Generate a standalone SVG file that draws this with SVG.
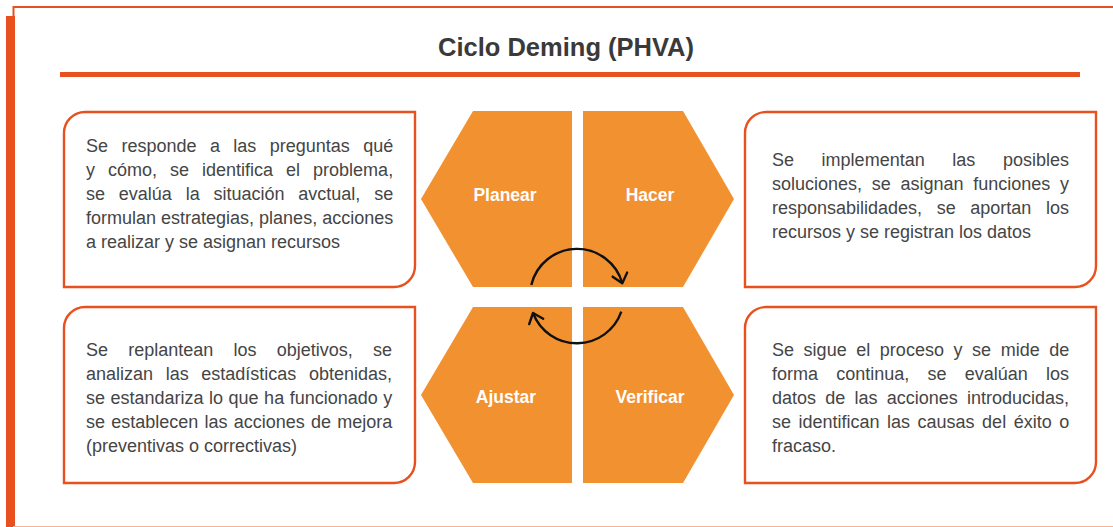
<svg xmlns="http://www.w3.org/2000/svg" width="1113" height="527" viewBox="0 0 1113 527">
<style>
.frame{fill:none;stroke:#E8501F;stroke-width:2}
.box{fill:#fff;stroke:#E8501F;stroke-width:2.4}
.hex{fill:#F29130}
.lbl{font-family:"Liberation Sans",Arial,sans-serif;font-weight:bold;font-size:17.5px;fill:#fff;text-anchor:middle}
.body{font-family:"Liberation Sans",Arial,sans-serif;font-size:18px;fill:#454545}
.title{font-family:"Liberation Sans",Arial,sans-serif;font-weight:bold;font-size:25.5px;fill:#3a3a3a;text-anchor:middle}
.arc{fill:none;stroke:#111;stroke-width:2.4;marker-end:url(#chev)}
</style>
<defs>
<marker id="chev" markerUnits="userSpaceOnUse" markerWidth="24" markerHeight="24" refX="0" refY="0" viewBox="-12 -12 24 24" orient="auto">
<path d="M-9,-7.5 L0,0 L-9,7.5" fill="none" stroke="#111" stroke-width="2.4" stroke-linecap="round" stroke-linejoin="round"/>
</marker>
</defs>
<rect width="1113" height="527" fill="#fff"/>
<g id="frame">
<path class="frame" d="M1113,7 H13.5 V20"/>
<rect x="6" y="16" width="9" height="511" fill="#E8501F"/>
<line x1="13" y1="526.5" x2="1113" y2="526.5" stroke="#F5B49A" stroke-width="1"/>
</g>
<g id="title">
<text class="title" x="566" y="56">Ciclo Deming (PHVA)</text>
<rect x="60" y="72" width="1020" height="5" fill="#E8501F"/>
</g>
<g id="node-planear">
<polygon class="hex" points="473,111 572,111 572,287 473,287 421,199"/>
<text class="lbl" x="505" y="201">Planear</text>
</g>
<g id="node-hacer">
<polygon class="hex" points="583,111 683,111 734,199 683,287 583,287"/>
<text class="lbl" x="650" y="201">Hacer</text>
</g>
<g id="node-ajustar">
<polygon class="hex" points="473,307 572,307 572,483 473,483 421,395"/>
<text class="lbl" x="506" y="403">Ajustar</text>
</g>
<g id="node-verificar">
<polygon class="hex" points="583,307 683,307 734,395 683,483 583,483"/>
<text class="lbl" x="650" y="403">Verificar</text>
</g>
<g id="box-planear">
<path class="box" d="M64,133 A21,21 0 0 1 85,112 H415 V266 A21,21 0 0 1 394,287 H64 Z"/>
<text class="body" x="86" y="152" style="word-spacing:8.4px">Se responde a las preguntas qué</text>
<text class="body" x="86" y="176" style="word-spacing:8px">y cómo, se identifica el problema,</text>
<text class="body" x="86" y="200" style="word-spacing:8.8px">se evalúa la situación avctual, se</text>
<text class="body" x="86" y="224">formulan estrategias, planes, acciones</text>
<text class="body" x="86" y="248">a realizar y se asignan recursos</text>
</g>
<g id="box-hacer">
<path class="box" d="M745,133 A21,21 0 0 1 766,112 H1096 V266 A21,21 0 0 1 1075,287 H745 Z"/>
<text class="body" x="772" y="166" style="word-spacing:22.6px">Se implementan las posibles</text>
<text class="body" x="772" y="190" style="word-spacing:4.7px">soluciones, se asignan funciones y</text>
<text class="body" x="772" y="214" style="word-spacing:9.6px">responsabilidades, se aportan los</text>
<text class="body" x="772" y="238">recursos y se registran los datos</text>
</g>
<g id="box-ajustar">
<path class="box" d="M64,328 A21,21 0 0 1 85,307 H415 V462 A21,21 0 0 1 394,483 H64 Z"/>
<text class="body" x="86" y="356" style="word-spacing:15.2px">Se replantean los objetivos, se</text>
<text class="body" x="86" y="380" style="word-spacing:7.6px">analizan las estadísticas obtenidas,</text>
<text class="body" x="86" y="404" style="word-spacing:0.5px">se estandariza lo que ha funcionado y</text>
<text class="body" x="86" y="428" style="word-spacing:1.2px">se establecen las acciones de mejora</text>
<text class="body" x="86" y="452">(preventivas o correctivas)</text>
</g>
<g id="box-verificar">
<path class="box" d="M745,328 A21,21 0 0 1 766,307 H1096 V462 A21,21 0 0 1 1075,483 H745 Z"/>
<text class="body" x="772" y="356" style="word-spacing:4.6px">Se sigue el proceso y se mide de</text>
<text class="body" x="772" y="380" style="word-spacing:13.2px">forma continua, se evalúan los</text>
<text class="body" x="772" y="404" style="word-spacing:4.2px">datos de las acciones introducidas,</text>
<text class="body" x="772" y="428" style="word-spacing:2.5px">se identifican las causas del éxito o</text>
<text class="body" x="772" y="452">fracaso.</text>
</g>
<g id="connectors">
<path class="arc" d="M531.3,285 A47,47 0 0 1 622.3,283.3"/>
<path class="arc" d="M621.3,311.7 A47,47 0 0 1 533,313"/>
</g>
</svg>
